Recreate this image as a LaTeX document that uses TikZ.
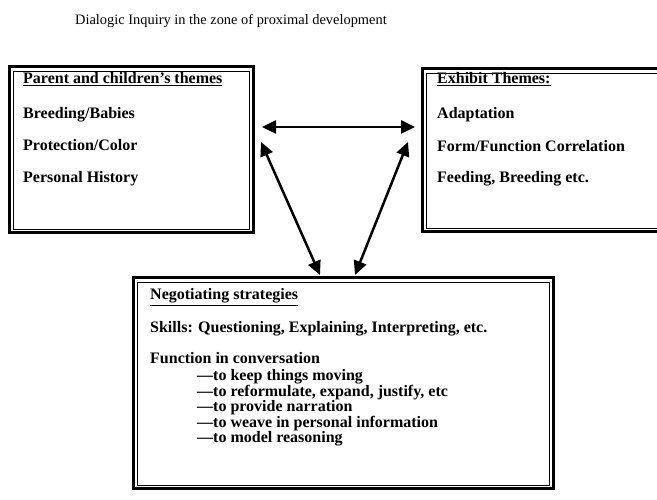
\documentclass[tikz,border=0pt]{standalone}
\usepackage{fontspec}
\setmainfont{Liberation Serif}
\usetikzlibrary{arrows.meta, positioning}

\begin{document}
\begin{tikzpicture}[x=1pt, y=1pt, font=\fontsize{16}{16}\selectfont\bfseries]

% Styles
        \tikzstyle{frame}=[rectangle, draw, line width=3pt, inner sep=0pt, outer sep=0pt, anchor=north west]
        \tikzstyle{entry}=[anchor=base west, inner sep=0pt]
        \tikzstyle{arrow}=[{Triangle[length=14pt, width=13pt]}-{Triangle[length=14pt, width=13pt]}, line width=2.5pt]

% Page
        \clip (0,0) rectangle (657,500);

% Nodes
% Title
        \node[entry, font=\fontsize{14.4}{14.4}\selectfont] (title) at (75,475) {Dialogic Inquiry in the zone of proximal development};

% Parent and children's themes
        \node[frame, minimum width=244pt, minimum height=166pt] (parent) at (9,433) {};
        \node[entry] (parenthead) at (23,416) {\underline{Parent and children's themes}};
        \node[entry, below=35pt of parenthead.base west, anchor=base west] (babies) {Breeding/Babies};
        \node[entry, below=32pt of babies.base west, anchor=base west] (color) {Protection/Color};
        \node[entry, below=32pt of color.base west, anchor=base west] (history) {Personal History};

% Exhibit themes
        \node[frame, minimum width=278pt, minimum height=163pt] (exhibit) at (422,431) {};
        \node[entry] (exhibithead) at (437,416) {\underline{Exhibit Themes:}};
        \node[entry, below=35pt of exhibithead.base west, anchor=base west] (adaptation) {Adaptation};
        \node[entry, below=33pt of adaptation.base west, anchor=base west] (formfunction) {Form/Function Correlation};
        \node[entry, below=31pt of formfunction.base west, anchor=base west] (feeding) {Feeding, Breeding etc.};

% Negotiating strategies
        \node[frame, minimum width=420pt, minimum height=211pt] (negotiating) at (133,222) {};
        \node[entry] (neghead) at (150,200) {\underline{Negotiating strategies}};
        \node[entry, below=33pt of neghead.base west, anchor=base west] (skills) {Skills: Questioning, Explaining, Interpreting, etc.};
        \node[entry, below=31pt of skills.base west, anchor=base west] (function) {Function in conversation};
        \foreach \txt [count=\i] in {to keep things moving, {to reformulate, expand, justify, etc}, to provide narration, to weave in personal information, to model reasoning}
            \node[entry] (function\i) at ([xshift=47pt, yshift={-17pt-15.5pt*(\i-1)}]function.base west) {—\txt};

% Inner frames
        \foreach \frm in {parent, exhibit, negotiating}
            \draw[line width=0.8pt] ([shift={(4pt,-4pt)}]\frm.north west) rectangle ([shift={(-4pt,4pt)}]\frm.south east);

% Connections
        \draw[arrow] ([shift={(9pt,23pt)}]parent.east) -- ([shift={(-7pt,23.5pt)}]exhibit.west);
        \draw[arrow] ([shift={(8pt,8pt)}]parent.east) -- ([shift={(-23pt,3pt)}]negotiating.north);
        \draw[arrow] ([shift={(-14pt,8.5pt)}]exhibit.west) -- ([shift={(12pt,3pt)}]negotiating.north);

\end{tikzpicture}
\end{document}
